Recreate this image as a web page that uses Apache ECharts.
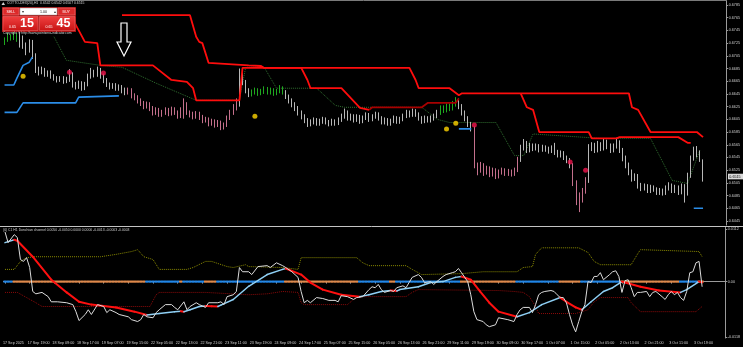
<!DOCTYPE html>
<html><head><meta charset="utf-8">
<script src="https://cdn.jsdelivr.net/npm/echarts@6/dist/echarts.min.js"></script>
<style>html,body{margin:0;padding:0;background:#000;}#c{width:743px;height:347px;}</style>
</head><body><div id="c"></div>
<script>
// ---------- DATA ----------
const timeLabels = ['17 Sep 2025','17 Sep 19:00','18 Sep 09:00','18 Sep 17:00','19 Sep 07:00','19 Sep 15:00','22 Sep 05:00','22 Sep 13:00','22 Sep 21:00','23 Sep 11:00','23 Sep 19:00','24 Sep 09:00','24 Sep 17:00','25 Sep 07:00','25 Sep 15:00','26 Sep 05:00','26 Sep 13:00','26 Sep 21:00','29 Sep 11:00','29 Sep 19:00','30 Sep 09:00','30 Sep 17:00','1 Oct 07:00','1 Oct 15:00','2 Oct 05:00','2 Oct 13:00','2 Oct 21:00','3 Oct 11:00','3 Oct 19:00'];
const priceTicks = [0.6785,0.6765,0.6745,0.6725,0.6705,0.6685,0.6665,0.6645,0.6625,0.6605,0.6585,0.6565,0.6545,0.6525,0.6505,0.6485,0.6465,0.6445];
const oscTicks = [-0.0118, 0, 0.0112];
const lastPrice = 0.6515;
const firstOpen = 0.6726;
const closes = [
0.6730,0.6736,0.6733,0.6738,0.6731,0.6733,0.6722,0.6714,0.6727,0.6706,
0.6683,0.6679,0.6683,0.6676,0.6679,0.6673,0.6670,0.6667,0.6670,0.6665,
0.6668,0.6676,0.6660,0.6657,0.6662,0.6654,0.6660,0.6673,0.6679,0.6676,
0.6683,0.6673,0.6667,0.6660,0.6657,0.6659,0.6654,0.6656,0.6651,0.6648,
0.6651,0.6643,0.6640,0.6635,0.6631,0.6626,0.6629,0.6623,0.6616,0.6620,
0.6613,0.6616,0.6620,0.6614,0.6621,0.6616,0.6610,0.6620,0.6629,0.6616,
0.6613,0.6610,0.6614,0.6609,0.6604,0.6605,0.6599,0.6602,0.6597,0.6600,
0.6593,0.6596,0.6607,0.6616,0.6623,0.6629,0.6679,0.6664,0.6651,0.6645,
0.6648,0.6651,0.6646,0.6649,0.6652,0.6648,0.6651,0.6646,0.6649,0.6654,
0.6648,0.6641,0.6635,0.6629,0.6623,0.6616,0.6610,0.6604,0.6598,0.6601,
0.6604,0.6599,0.6602,0.6605,0.6601,0.6598,0.6602,0.6599,0.6604,0.6610,
0.6616,0.6607,0.6610,0.6604,0.6609,0.6602,0.6607,0.6612,0.6605,0.6609,
0.6613,0.6607,0.6601,0.6604,0.6599,0.6602,0.6607,0.6602,0.6605,0.6610,
0.6616,0.6612,0.6618,0.6613,0.6607,0.6602,0.6607,0.6604,0.6607,0.6610,
0.6616,0.6623,0.6620,0.6626,0.6623,0.6629,0.6635,0.6626,0.6616,0.6607,
0.6598,0.6591,0.6533,0.6525,0.6533,0.6522,0.6528,0.6519,0.6525,0.6516,
0.6522,0.6525,0.6520,0.6523,0.6519,0.6525,0.6541,0.6560,0.6568,0.6557,
0.6564,0.6560,0.6563,0.6557,0.6561,0.6558,0.6555,0.6560,0.6553,0.6549,
0.6552,0.6545,0.6541,0.6533,0.6506,0.6486,0.6478,0.6493,0.6509,0.6560,
0.6564,0.6557,0.6566,0.6560,0.6569,0.6563,0.6557,0.6563,0.6569,0.6557,
0.6544,0.6533,0.6522,0.6512,0.6516,0.6501,0.6497,0.6500,0.6493,0.6498,
0.6495,0.6490,0.6493,0.6489,0.6497,0.6501,0.6493,0.6498,0.6490,0.6500,
0.6488,0.6517,0.6544,0.6557,0.6549,0.6542,0.6515];
const highs = [
0.6734,0.6741,0.6739,0.6744,0.6741,0.6748,0.6737,0.6726,0.6731,0.6730,
0.6709,0.6688,0.6688,0.6686,0.6682,0.6682,0.6676,0.6673,0.6673,0.6673,
0.6672,0.6684,0.6679,0.6664,0.6666,0.6665,0.6664,0.6677,0.6686,0.6683,
0.6688,0.6686,0.6677,0.6670,0.6663,0.6662,0.6662,0.6660,0.6659,0.6655,
0.6655,0.6654,0.6646,0.6643,0.6638,0.6634,0.6633,0.6632,0.6626,0.6624,
0.6623,0.6620,0.6624,0.6623,0.6625,0.6624,0.6619,0.6624,0.6638,0.6632,
0.6619,0.6617,0.6618,0.6617,0.6612,0.6609,0.6608,0.6606,0.6605,0.6604,
0.6603,0.6600,0.6611,0.6620,0.6629,0.6638,0.6685,0.6682,0.6667,0.6654,
0.6652,0.6655,0.6654,0.6653,0.6657,0.6656,0.6655,0.6654,0.6653,0.6659,
0.6657,0.6651,0.6644,0.6638,0.6632,0.6626,0.6619,0.6613,0.6607,0.6605,
0.6608,0.6607,0.6606,0.6609,0.6608,0.6604,0.6606,0.6605,0.6608,0.6614,
0.6622,0.6619,0.6614,0.6613,0.6613,0.6612,0.6611,0.6616,0.6615,0.6613,
0.6617,0.6616,0.6610,0.6608,0.6607,0.6606,0.6611,0.6610,0.6609,0.6614,
0.6620,0.6619,0.6622,0.6621,0.6616,0.6610,0.6611,0.6610,0.6611,0.6614,
0.6620,0.6627,0.6627,0.6630,0.6630,0.6634,0.6640,0.6638,0.6629,0.6619,
0.6610,0.6601,0.6594,0.6537,0.6538,0.6536,0.6532,0.6531,0.6529,0.6528,
0.6526,0.6529,0.6528,0.6527,0.6526,0.6529,0.6546,0.6565,0.6574,0.6571,
0.6568,0.6567,0.6567,0.6566,0.6565,0.6564,0.6562,0.6564,0.6568,0.6557,
0.6556,0.6555,0.6548,0.6544,0.6536,0.6509,0.6490,0.6497,0.6514,0.6566,
0.6569,0.6568,0.6571,0.6569,0.6574,0.6573,0.6567,0.6567,0.6576,0.6572,
0.6560,0.6548,0.6537,0.6526,0.6520,0.6519,0.6505,0.6504,0.6503,0.6502,
0.6501,0.6498,0.6497,0.6496,0.6501,0.6506,0.6504,0.6502,0.6501,0.6504,
0.6503,0.6521,0.6548,0.6562,0.6563,0.6556,0.6542];
const lows = [
0.6722,0.6727,0.6729,0.6730,0.6727,0.6718,0.6716,0.6706,0.6710,0.6700,
0.6678,0.6674,0.6676,0.6672,0.6672,0.6669,0.6666,0.6663,0.6664,0.6661,
0.6662,0.6664,0.6655,0.6652,0.6653,0.6650,0.6651,0.6657,0.6669,0.6671,
0.6672,0.6669,0.6662,0.6656,0.6652,0.6653,0.6650,0.6650,0.6646,0.6643,
0.6644,0.6638,0.6635,0.6630,0.6626,0.6621,0.6622,0.6618,0.6611,0.6612,
0.6609,0.6609,0.6612,0.6610,0.6611,0.6612,0.6606,0.6607,0.6606,0.6612,
0.6608,0.6605,0.6606,0.6604,0.6599,0.6600,0.6594,0.6595,0.6592,0.6593,
0.6588,0.6589,0.6593,0.6604,0.6612,0.6619,0.6625,0.6659,0.6646,0.6640,
0.6641,0.6644,0.6642,0.6643,0.6645,0.6644,0.6644,0.6642,0.6643,0.6646,
0.6644,0.6637,0.6630,0.6624,0.6618,0.6611,0.6605,0.6599,0.6593,0.6594,
0.6597,0.6595,0.6595,0.6598,0.6597,0.6594,0.6595,0.6595,0.6596,0.6601,
0.6606,0.6603,0.6603,0.6600,0.6601,0.6598,0.6599,0.6604,0.6601,0.6602,
0.6606,0.6603,0.6597,0.6597,0.6595,0.6595,0.6599,0.6598,0.6598,0.6602,
0.6607,0.6608,0.6609,0.6609,0.6603,0.6598,0.6599,0.6600,0.6600,0.6603,
0.6607,0.6612,0.6615,0.6616,0.6618,0.6619,0.6625,0.6621,0.6611,0.6602,
0.6593,0.6586,0.6528,0.6517,0.6521,0.6516,0.6518,0.6514,0.6515,0.6511,
0.6512,0.6518,0.6516,0.6516,0.6515,0.6516,0.6522,0.6538,0.6556,0.6552,
0.6553,0.6555,0.6556,0.6553,0.6554,0.6554,0.6551,0.6552,0.6549,0.6545,
0.6545,0.6541,0.6536,0.6528,0.6500,0.6470,0.6459,0.6474,0.6488,0.6505,
0.6555,0.6552,0.6553,0.6555,0.6556,0.6558,0.6552,0.6553,0.6559,0.6552,
0.6539,0.6528,0.6517,0.6507,0.6508,0.6496,0.6492,0.6493,0.6489,0.6489,
0.6491,0.6486,0.6486,0.6485,0.6486,0.6493,0.6489,0.6489,0.6486,0.6487,
0.6474,0.6485,0.6513,0.6540,0.6545,0.6538,0.6507];

// stop lines (bar index, price)
const stopLine1 = [[22,0.6769],[23,0.6754],[26,0.6727],[30,0.6725],[31,0.6690],[48,0.6690],[54,0.6667],[59,0.6664],[61,0.6654],[62,0.6635],[76,0.6635],[77,0.6686],[131,0.6686],[133,0.6667],[134,0.6654],[144,0.6654],[147,0.6643],[148,0.6646],[202,0.6646],[203,0.6624],[205,0.6620],[209,0.6585],[224,0.6585],[226,0.6577]];
const stopLine2 = [[38,0.6769],[60,0.6769],[62,0.6735],[63,0.6727],[64,0.6725],[66,0.6694],[79,0.6690],[83,0.6689],[84,0.6686],[96,0.6686],[98,0.6667],[99,0.6654],[109,0.6654],[115,0.6623],[118,0.6620]];
const stopLine2b = [[118,0.6620],[119,0.6624],[135,0.6624],[137,0.6631],[146,0.6631],[147,0.6638]];
const stopLine3 = [[167,0.6646],[169,0.6624],[171,0.6620],[173,0.6585],[189,0.6585],[190,0.6575],[198,0.6575],[199,0.6577],[218,0.6577],[221,0.6568],[222,0.6568]];
const blueA = [[0,0.6659],[3,0.6659],[4,0.6670],[6,0.6690],[8,0.6695],[9,0.6703]];
const blueB = [[0,0.6616],[4,0.6616],[6,0.6631],[23,0.6631],[24,0.6640],[37,0.6642]];
const blueC = [[147,0.6590],[151,0.6590]];
const blueD = [[223,0.6465],[226,0.6465]];
const midDots = [[16,0.6735],[20,0.6698],[31,0.6690],[38,0.6687],[49,0.6662],[62,0.6635],[76,0.6635],[78,0.6687],[84,0.6687],[88,0.6654],[101,0.6654],[107,0.6627],[110,0.6624],[135,0.6624],[140,0.6605],[144,0.6600],[159,0.6600],[165,0.6548],[168,0.6548],[171,0.6582],[193,0.6575],[209,0.6575],[216,0.6509],[221,0.6504],[225,0.6557]];
const yellowDots = [[6,0.6673],[81,0.6610],[143,0.6590],[146,0.6599]];
const redDots = [[21,0.6679],[32,0.6678],[152,0.6596],[183,0.6538],[188,0.6525]];

// oscillator panel (bar index, value)
const oscWhite = [[0,0.0106],[1,0.0083],[3,0.0100],[4,0.0094],[5,0.0047],[6,0.0043],[7,0.0051],[8,0.0030],[9,-0.0021],[10,-0.0026],[12,-0.0023],[14,-0.0032],[15,-0.0043],[17,-0.0043],[20,-0.0045],[22,-0.0049],[23,-0.0064],[24,-0.0083],[26,-0.0070],[27,-0.0060],[28,-0.0070],[30,-0.0049],[32,-0.0053],[33,-0.0066],[34,-0.0060],[36,-0.0066],[37,-0.0070],[40,-0.0075],[41,-0.0081],[43,-0.0085],[44,-0.0081],[45,-0.0070],[46,-0.0075],[48,-0.0077],[49,-0.0066],[50,-0.0060],[52,-0.0049],[54,-0.0049],[55,-0.0055],[56,-0.0060],[58,-0.0043],[59,-0.0060],[60,-0.0053],[62,-0.0045],[63,-0.0049],[65,-0.0055],[66,-0.0045],[69,-0.0045],[70,-0.0043],[71,-0.0049],[72,-0.0032],[74,-0.0028],[75,-0.0021],[76,0.0030],[77,0.0021],[79,0.0021],[80,0.0015],[82,0.0032],[85,0.0034],[86,0.0030],[88,0.0040],[90,0.0034],[91,0.0030],[93,0.0021],[95,0.0009],[96,-0.0021],[97,-0.0045],[98,-0.0040],[99,-0.0045],[101,-0.0034],[103,-0.0036],[105,-0.0040],[107,-0.0040],[108,-0.0043],[109,-0.0030],[111,-0.0032],[113,-0.0038],[114,-0.0034],[116,-0.0032],[118,-0.0017],[119,-0.0011],[120,-0.0013],[121,-0.0006],[122,-0.0017],[123,-0.0023],[125,-0.0019],[126,-0.0021],[127,-0.0013],[129,-0.0009],[130,-0.0013],[131,-0.0002],[132,0.0009],[134,0.0015],[135,0.0009],[136,-0.0002],[138,0.0000],[139,-0.0006],[140,0.0000],[142,0.0011],[143,0.0015],[145,0.0019],[146,0.0021],[147,0.0028],[148,0.0019],[150,0.0000],[151,-0.0028],[152,-0.0064],[153,-0.0081],[155,-0.0085],[156,-0.0092],[157,-0.0096],[159,-0.0092],[160,-0.0077],[163,-0.0081],[165,-0.0085],[166,-0.0070],[167,-0.0060],[168,-0.0055],[170,-0.0055],[171,-0.0066],[172,-0.0049],[173,-0.0028],[174,-0.0023],[175,-0.0021],[177,-0.0019],[178,-0.0021],[179,-0.0028],[180,-0.0034],[181,-0.0034],[182,-0.0045],[183,-0.0070],[184,-0.0092],[185,-0.0107],[186,-0.0085],[187,-0.0064],[188,-0.0049],[189,0.0000],[190,-0.0002],[191,0.0011],[192,0.0011],[193,0.0019],[194,0.0004],[196,0.0015],[197,0.0021],[198,0.0023],[199,0.0011],[200,-0.0023],[201,0.0002],[202,0.0004],[203,-0.0013],[204,-0.0032],[205,-0.0023],[206,-0.0023],[208,-0.0021],[209,-0.0032],[210,-0.0023],[211,-0.0021],[213,-0.0032],[214,-0.0038],[215,-0.0028],[216,-0.0021],[217,-0.0028],[218,-0.0023],[219,-0.0034],[220,-0.0040],[221,-0.0021],[222,0.0019],[223,0.0021],[224,0.0040],[225,0.0043],[226,-0.0011]];
const oscSmooth = [[0,0.0083],[3,0.0089],[4,0.0087],[9,0.0053],[15,0.0004],[20,-0.0023],[24,-0.0043],[28,-0.0049],[36,-0.0055],[42,-0.0064],[46,-0.0071],[50,-0.0068],[55,-0.0064],[57,-0.0063],[58,-0.0064],[60,-0.0060],[63,-0.0053],[65,-0.0052],[67,-0.00525],[69,-0.0053],[70,-0.0050],[74,-0.0038],[79,-0.0010],[85,0.0015],[90,0.0026],[91,0.0028],[96,0.0015],[99,-0.0002],[103,-0.0017],[109,-0.0028],[115,-0.0032],[118,-0.0028],[122,-0.0021],[125,-0.0019],[127,-0.0020],[128,-0.0017],[134,-0.0011],[138,-0.0002],[142,0.0000],[146,0.0009],[148,0.0011],[151,0.0004],[154,-0.0021],[157,-0.0045],[160,-0.0064],[166,-0.0075],[170,-0.0066],[174,-0.0049],[180,-0.0034],[182,-0.0043],[185,-0.0055],[187,-0.0060],[190,-0.0043],[194,-0.0021],[197,-0.0013],[200,0.0000],[201,-0.0002],[206,-0.0011],[212,-0.0019],[219,-0.0023],[221,-0.0017],[225,0.0000],[226,-0.0002]];
const oscUpper = [[0,0.0026],[3,0.0026],[5,0.0043],[7,0.0051],[10,0.0053],[31,0.0053],[36,0.0058],[41,0.0064],[43,0.0068],[45,0.0053],[48,0.0047],[50,0.0026],[59,0.0026],[61,0.0030],[65,0.0043],[67,0.0043],[72,0.0032],[74,0.0030],[78,0.0036],[79,0.0032],[90,0.0030],[95,0.0026],[96,0.0051],[114,0.0051],[116,0.0040],[118,0.0034],[130,0.0034],[132,0.0026],[134,0.0019],[135,0.0015],[148,0.0017],[155,0.0021],[166,0.0021],[168,0.0030],[171,0.0032],[172,0.0058],[174,0.0072],[186,0.0072],[189,0.0062],[191,0.0043],[193,0.0036],[203,0.0036],[205,0.0058],[206,0.0068],[225,0.0064],[226,0.0053]];
const oscLower = [[0,-0.0023],[4,-0.0023],[7,-0.0034],[10,-0.0045],[12,-0.0053],[47,-0.0053],[49,-0.0028],[50,-0.0023],[65,-0.0023],[79,-0.0028],[85,-0.0026],[90,-0.0021],[95,-0.0023],[96,-0.0045],[97,-0.0049],[111,-0.0049],[113,-0.0038],[115,-0.0032],[130,-0.0032],[132,-0.0023],[134,-0.0017],[160,-0.0019],[165,-0.0021],[168,-0.0023],[170,-0.0032],[172,-0.0053],[173,-0.0068],[185,-0.0068],[189,-0.0060],[191,-0.0043],[193,-0.0034],[202,-0.0034],[203,-0.0045],[206,-0.0064],[224,-0.0064],[226,-0.0053]];

// ---------- STYLE ----------
const SLOTS = 234;
const FONT = 'Liberation Sans';
const GRAY = '#b8b8b8';
const toneRanges = [[0,4,'#1fa81f'],[40,75,'#c4708c'],[80,90,'#1fa81f'],[141,146,'#1fa81f'],[152,166,'#c4708c'],[184,188,'#c4708c']];
function tone(i){ for (const r of toneRanges) if (i>=r[0] && i<=r[1]) return r[2]; return GRAY; }
const cats = Array.from({length: SLOTS}, (_, i) => String(i));
const ohlc = closes.map((c, i) => [i === 0 ? firstOpen : closes[i-1], c, lows[i], highs[i]]);
const labelShown = (idx) => idx % 8 === 0 && idx / 8 < timeLabels.length;

function segData(pts){ const out=[]; for(let k=0;k<pts.length-1;k++){ out.push([pts[k][0],pts[k][1],pts[k+1][0],pts[k+1][1], pts[k+1][1]<pts[k][1]?1:0]); } return out; }
function fallingAt(pts, i){ for(let k=0;k<pts.length-1;k++){ if(i>=pts[k][0] && i<pts[k+1][0]) return pts[k+1][1]<pts[k][1]?1:0; } const n=pts.length; return pts[n-1][1]<pts[n-2][1]?1:0; }
const zeroData = closes.map((_, i) => [i, 0, fallingAt(oscSmooth, i)]);

function line(data, color, width, type, xi, z){ return {type:'line', data, xAxisIndex:xi, yAxisIndex:xi, symbol:'none', showSymbol:false, silent:true, z:z||3, lineStyle:{color, width, type:type||'solid'}}; }

const axisGray = '#9a9a9a';
const labelColor = '#cfcfcf';

const chart = echarts.init(document.getElementById('c'), null, {renderer:'canvas'});
chart.setOption({
  backgroundColor:'#000',
  animation:false,
  grid:[{left:3, right:16, top:1, bottom:122}, {left:3, right:16, top:227, bottom:9}],
  xAxis:[
    {type:'category', gridIndex:0, data:cats, boundaryGap:true, axisLine:{show:false}, axisTick:{show:false}, axisLabel:{show:false}, splitLine:{show:false}},
    {type:'category', gridIndex:1, data:cats, boundaryGap:true,
     axisLine:{show:true, lineStyle:{color:axisGray, width:1}},
     axisTick:{show:true, interval:(i)=>labelShown(i), length:2, alignWithLabel:true, lineStyle:{color:axisGray}},
     axisLabel:{show:true, interval:(i)=>labelShown(i), formatter:(v, idx)=>timeLabels[idx/8], color:labelColor, fontSize:3.7, fontFamily:FONT, align:'left', margin:2.5, padding:[0,0,0,-2]},
     splitLine:{show:false}}
  ],
  yAxis:[
    {type:'value', gridIndex:0, position:'right', min:0.64387, max:0.67913, scale:true,
     axisLine:{show:true, lineStyle:{color:axisGray}}, splitLine:{show:false},
     axisTick:{show:true, customValues:priceTicks, length:2, lineStyle:{color:axisGray}},
     axisLabel:{show:true, customValues:priceTicks, formatter:(v)=>v.toFixed(4), color:labelColor, fontSize:3.7, fontFamily:FONT, margin:2.5}},
    {type:'value', gridIndex:1, position:'right', min:-0.01201, max:0.01163,
     axisLine:{show:true, lineStyle:{color:axisGray}}, splitLine:{show:false},
     axisTick:{show:true, customValues:oscTicks, length:2, lineStyle:{color:axisGray}},
     axisLabel:{show:true, customValues:oscTicks, formatter:(v)=> Math.abs(v)<1e-9 ? '0.00' : v.toFixed(4), color:labelColor, fontSize:3.7, fontFamily:FONT, margin:2.5}}
  ],
  series:[
    line(midDots, '#2f6e2f', 1, 'dotted', 0, 2),
    {type:'candlestick', xAxisIndex:0, yAxisIndex:0, barWidth:1.2, silent:true, z:3,
     data: ohlc.map((v,i)=>({value:v, itemStyle:{color:tone(i), color0:tone(i), borderColor:tone(i), borderColor0:tone(i), borderWidth:1}}))},
    line(stopLine1, '#ff0d0d', 1.8, 'solid', 0, 4),
    line(stopLine2, '#ff0d0d', 1.8, 'solid', 0, 4),
    line(stopLine2b, '#a80000', 1.8, 'solid', 0, 4),
    line(stopLine3, '#ff0d0d', 1.8, 'solid', 0, 4),
    line(blueA, '#2b8de8', 1.6, 'solid', 0, 4),
    line(blueB, '#2b8de8', 1.6, 'solid', 0, 4),
    line(blueC, '#2b8de8', 1.6, 'solid', 0, 4),
    line(blueD, '#2b8de8', 1.6, 'solid', 0, 4),
    {type:'scatter', xAxisIndex:0, yAxisIndex:0, data:yellowDots, symbolSize:5, itemStyle:{color:'#ffd400'}, silent:true, z:6},
    {type:'scatter', xAxisIndex:0, yAxisIndex:0, data:redDots, symbolSize:5, itemStyle:{color:'#f0144c'}, silent:true, z:6},
    // oscillator panel
    line(oscUpper, '#8a8a00', 1, 'dotted', 1, 2),
    line(oscLower, '#8c0a0a', 1, 'dotted', 1, 2),
    {type:'custom', xAxisIndex:1, yAxisIndex:1, data:zeroData, silent:true, z:3, encode:{x:0, y:1},
     renderItem:(p, api)=>{ const c = api.coord([api.value(0), 0]); const w = api.size([1,0])[0]; const f = api.value(2)===1;
       return {type:'line', shape:{x1:c[0]-w/2, y1:c[1], x2:c[0]+w/2, y2:c[1]}, style:{stroke: f ? '#e0894a' : '#1f86e8', lineWidth:2.2}}; }},
    {type:'custom', xAxisIndex:1, yAxisIndex:1, data:segData(oscSmooth), silent:true, z:4, encode:{x:[0,2], y:[1,3]},
     renderItem:(p, api)=>{ const a = api.coord([api.value(0), api.value(1)]); const b = api.coord([api.value(2), api.value(3)]); const f = api.value(4)===1;
       return {type:'line', shape:{x1:a[0], y1:a[1], x2:b[0], y2:b[1]}, style:{stroke: f ? '#ff1010' : '#8fd0f5', lineWidth: f ? 2 : 1.5, lineCap:'round'}}; }},
    line(oscWhite, '#dcdcdc', 1, 'solid', 1, 5)
  ]
});

const py = chart.convertToPixel({yAxisIndex:0}, lastPrice);
const T = (x, y, text, size, fill, extra) => Object.assign({type:'text', x, y, z:100, style:Object.assign({text, fill, fontSize:size, fontFamily:FONT, verticalAlign:'top'}, extra||{})});
chart.setOption({
  graphic:[
    {type:'line', z:50, shape:{x1:0, y1:226.5, x2:743, y2:226.5}, style:{stroke:'#c4c4c4', lineWidth:1}},
    {type:'line', z:50, shape:{x1:0, y1:0.5, x2:727, y2:0.5}, style:{stroke:'#7a7a7a', lineWidth:1}},
    // header
    {type:'polygon', z:100, shape:{points:[[1.5,5],[5,5],[3.25,2]]}, style:{fill:'#cfcfcf'}},
    T(7, 2, 'COTTO-DEX(20),H1  0.6542 0.6542 0.6507 0.6515', 3.4, '#d4d4d4'),
    // trade panel
    {type:'rect', z:90, shape:{x:2, y:7, width:74, height:25}, style:{fill:'#a81212'}},
    {type:'rect', z:95, shape:{x:3, y:8, width:16, height:7}, style:{fill:'#dc2a2a', stroke:'#f08080', lineWidth:0.5}},
    T(6.5, 9.7, 'SELL', 3.6, '#ffffff'),
    {type:'rect', z:95, shape:{x:20, y:8, width:37, height:7}, style:{fill:'#ffffff', stroke:'#9a9a9a', lineWidth:0.5}},
    T(22, 9.5, '▾', 3.6, '#333'),
    T(40, 9.7, '1.00', 3.6, '#111'),
    T(53.5, 9.5, '▴', 3.6, '#333'),
    {type:'rect', z:95, shape:{x:58, y:8, width:17, height:7}, style:{fill:'#dc2a2a', stroke:'#f08080', lineWidth:0.5}},
    T(62.5, 9.7, 'BUY', 3.6, '#ffffff'),
    {type:'rect', z:95, shape:{x:3, y:16.5, width:35, height:14}, style:{fill:new echarts.graphic.LinearGradient(0,0,0,1,[{offset:0,color:'#f04040'},{offset:1,color:'#c81414'}]), stroke:'#f07070', lineWidth:0.5}},
    {type:'rect', z:95, shape:{x:39.5, y:16.5, width:35.5, height:14}, style:{fill:new echarts.graphic.LinearGradient(0,0,0,1,[{offset:0,color:'#f04040'},{offset:1,color:'#c81414'}]), stroke:'#f07070', lineWidth:0.5}},
    T(9, 24.5, '0.65', 3.6, '#ffffff'),
    T(20, 17.5, '15', 12.5, '#ffffff', {fontWeight:'bold'}),
    T(45.5, 24.5, '0.65', 3.6, '#ffffff'),
    T(56.5, 17.5, '45', 12.5, '#ffffff', {fontWeight:'bold'}),
    T(3, 31.2, 'Copyright © http://www.pointzero-indicator.com', 3.3, '#d8d8d8'),
    // annotation arrow
    {type:'polygon', z:100, shape:{points:[[121,23],[127,23],[127,42],[131,42],[124,56],[117,42],[121,42]]}, style:{fill:'#000', stroke:'#ffffff', lineWidth:1.2}},
    // indicator title
    T(3, 228.8, '(6) C1 H1 Donchian channel 0.0050 -0.0050 0.0000 0.0000 -0.0013 -0.0003 -0.0003', 3.4, '#cfcfcf'),
    // last price box
    {type:'rect', z:100, shape:{x:728, y:py-2.8, width:15, height:5.6}, style:{fill:'#dadada'}},
    T(729.3, py-1.9, lastPrice.toFixed(4), 3.7, '#000000')
  ]
});
</script>
</body></html>
